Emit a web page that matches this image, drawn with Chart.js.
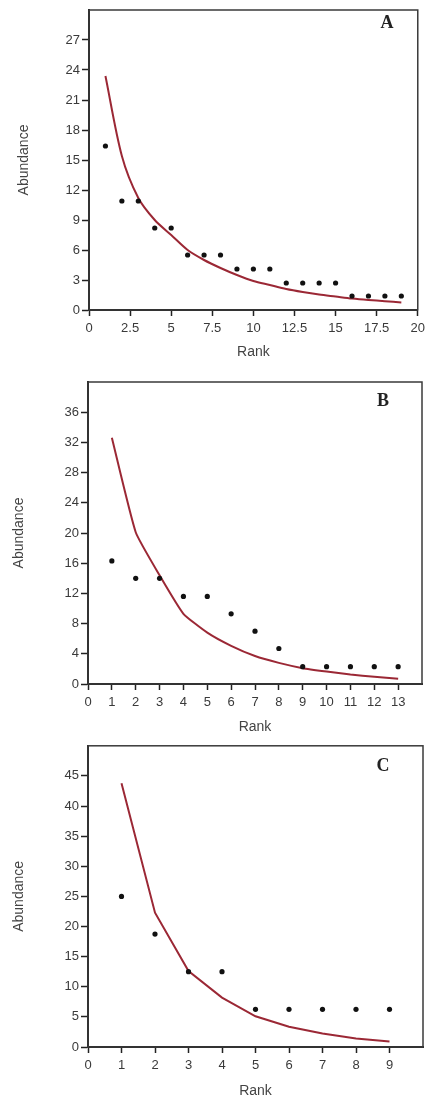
<!DOCTYPE html>
<html><head><meta charset="utf-8">
<script src="https://cdn.jsdelivr.net/npm/chart.js@4.4.1/dist/chart.umd.min.js"></script>
<style>
html,body{margin:0;padding:0;background:#fff;}
body{position:relative;width:430px;height:1097px;overflow:hidden;}
canvas{position:absolute;left:0;}
.lbl{position:absolute;font-family:"Liberation Serif","DejaVu Serif",serif;font-weight:bold;font-size:18px;color:#222;transform:translate(-50%,-50%);line-height:1;}
</style></head><body>
<canvas id="cA" width="430" height="362" style="top:0px"></canvas>
<canvas id="cB" width="430" height="374" style="top:362px"></canvas>
<canvas id="cC" width="430" height="361" style="top:736px"></canvas>
<div class="lbl" id="lA" style="left:387px;top:22px"></div>
<div class="lbl" id="lB" style="left:383px;top:400px"></div>
<div class="lbl" id="lC" style="left:383px;top:765px"></div>
<script>
// ---------- data ----------
const panelLabels = ['A', 'B', 'C'];
const xTitle = 'Rank';
const yTitle = 'Abundance';

const rankA = [1,2,3,4,5,6,7,8,9,10,11,12,13,14,15,16,17,18,19];
const observedA = [16.4,10.9,10.9,8.2,8.2,5.5,5.5,5.5,4.1,4.1,4.1,2.7,2.7,2.7,2.7,1.4,1.4,1.4,1.4];
const fittedA = [23.4,15.4,11.2,9.0,7.5,6.0,5.0,4.2,3.5,2.9,2.5,2.1,1.8,1.55,1.35,1.15,1.0,0.88,0.75];
const xTicksA = [0,2.5,5,7.5,10,12.5,15,17.5,20];
const yTicksA = [0,3,6,9,12,15,18,21,24,27];

const rankB = [1,2,3,4,5,6,7,8,9,10,11,12,13];
const observedB = [16.3,14.0,14.0,11.6,11.6,9.3,7.0,4.7,2.3,2.3,2.3,2.3,2.3];
const fittedB = [32.6,20.1,14.4,9.3,6.8,5.05,3.7,2.8,2.1,1.65,1.25,0.95,0.7];
const xTicksB = [0,1,2,3,4,5,6,7,8,9,10,11,12,13];
const yTicksB = [0,4,8,12,16,20,24,28,32,36];

const rankC = [1,2,3,4,5,6,7,8,9];
const observedC = [25,18.75,12.5,12.5,6.25,6.25,6.25,6.25,6.25];
const fittedC = [43.8,22.3,12.6,8.2,5.1,3.35,2.25,1.4,0.9];
const xTicksC = [0,1,2,3,4,5,6,7,8,9];
const yTicksC = [0,5,10,15,20,25,30,35,40,45];

// ---------- drawing ----------
const FONT = '"Liberation Sans", Arial, sans-serif';
const framePlugin = {
  id: 'frame',
  afterDraw(chart) {
    const {ctx, chartArea: {left, top, right, bottom}} = chart;
    ctx.save();
    ctx.strokeStyle = '#3a3a3a';
    ctx.lineWidth = 1.5;
    ctx.strokeRect(left, top, right - left, bottom - top);
    ctx.restore();
  }
};

function makeChart(id, rank, observed, fitted, xTicks, yTicks, xMax, yMax, lay) {
  const pts = rank.map((r, i) => ({x: r, y: observed[i]}));
  const line = rank.map((r, i) => ({x: r, y: fitted[i]}));
  return new Chart(document.getElementById(id), {
    type: 'scatter',
    data: {
      datasets: [
        {data: pts, showLine: false, pointRadius: 2.6, pointBackgroundColor: '#111', pointBorderColor: '#111', pointBorderWidth: 0},
        {data: line, showLine: true, pointRadius: 0, borderColor: 'rgba(150,28,42,0.95)', borderWidth: 2, tension: lay.tension, fill: false}
      ]
    },
    options: {
      responsive: false,
      animation: false,
      events: [],
      layout: {padding: {top: lay.top, right: lay.right, left: 0, bottom: 0}},
      plugins: {legend: {display: false}, tooltip: {enabled: false}},
      scales: {
        x: {
          type: 'linear', min: 0, max: xMax,
          afterBuildTicks: s => { s.ticks = xTicks.map(v => ({value: v})); },
          afterFit: s => { s.height = lay.xh; },
          grid: {drawOnChartArea: false, drawTicks: true, tickLength: 6, tickColor: '#222', tickWidth: 1.5},
          border: {display: true, color: '#222', width: 2},
          ticks: {color: '#3a3a3a', font: {family: FONT, size: 13}, padding: 5, maxRotation: 0, autoSkip: false, callback: v => String(v)},
          title: {display: true, text: xTitle, color: '#444', font: {family: FONT, size: 14}, padding: {top: 0, bottom: lay.xtp}}
        },
        y: {
          type: 'linear', min: 0, max: yMax,
          afterBuildTicks: s => { s.ticks = yTicks.map(v => ({value: v})); },
          afterFit: s => { s.width = lay.yw; },
          grid: {drawOnChartArea: false, drawTicks: true, tickLength: 7, tickColor: '#222', tickWidth: 1.5},
          border: {display: true, color: '#222', width: 2},
          ticks: {color: '#3a3a3a', font: {family: FONT, size: 13}, padding: 2, autoSkip: false, callback: v => String(v)},
          title: {display: true, text: yTitle, color: '#444', font: {family: FONT, size: 14}, padding: {top: lay.ytp, bottom: 0}}
        }
      }
    },
    plugins: [framePlugin]
  });
}

makeChart('cA', rankA, observedA, fittedA, xTicksA, yTicksA, 20, 30, {top: 10, right: 11, xh: 52, yw: 89, xtp: 1, ytp: 16, tension: 0.3});
makeChart('cB', rankB, observedB, fittedB, xTicksB, yTicksB, 14, 40, {top: 20, right: 8, xh: 52, yw: 88, xtp: 0, ytp: 11, tension: 0.15});
makeChart('cC', rankC, observedC, fittedC, xTicksC, yTicksC, 10, 50, {top: 8, right: 7, xh: 50, yw: 88, xtp: -3, ytp: 11, tension: 0});

document.getElementById('lA').textContent = panelLabels[0];
document.getElementById('lB').textContent = panelLabels[1];
document.getElementById('lC').textContent = panelLabels[2];
</script>
</body></html>
